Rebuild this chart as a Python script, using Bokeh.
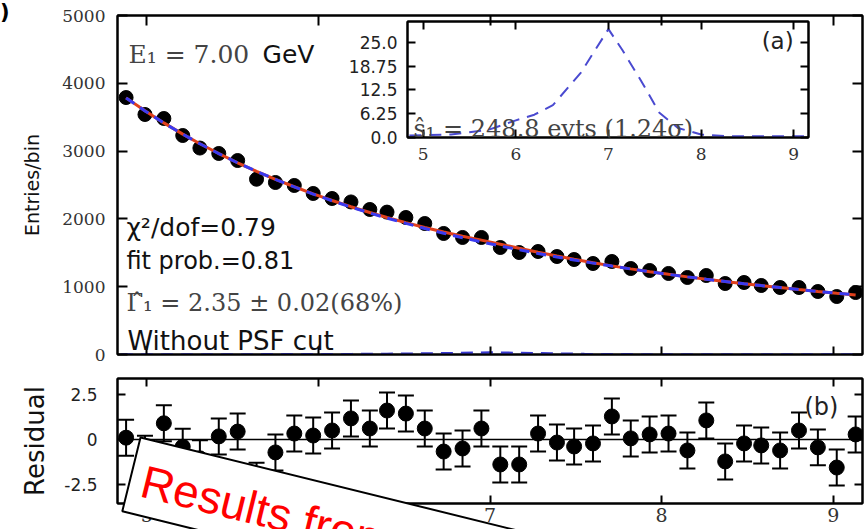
from bokeh.plotting import figure
from bokeh.models import (Range1d, LinearAxis, FixedTicker, Label, Whisker,
                          ColumnDataSource, TeeHead, Span, Div)
from bokeh.layouts import column
from bokeh.embed import file_html
from bokeh.resources import INLINE

# ---------------- data ----------------
energy = [4.88, 4.99, 5.10, 5.21, 5.31, 5.42, 5.53, 5.64, 5.75, 5.86,
          5.97, 6.08, 6.19, 6.30, 6.40, 6.51, 6.62, 6.73, 6.84, 6.95,
          7.06, 7.17, 7.28, 7.39, 7.49, 7.60, 7.71, 7.82, 7.93, 8.04,
          8.15, 8.26, 8.37, 8.48, 8.58, 8.69, 8.80, 8.91, 9.02, 9.13]
entries = [3790, 3540, 3481, 3230, 3045, 2965, 2861, 2585, 2537, 2493,
           2375, 2301, 2250, 2139, 2100, 2021, 1932, 1785, 1726, 1726,
           1578, 1504, 1519, 1445, 1401, 1342, 1372, 1268, 1239, 1195,
           1136, 1165, 1047, 1062, 1018, 988, 988, 929, 855, 914]
fit_total = [3785, 3594, 3416, 3250, 3109, 2964, 2828, 2702, 2584, 2474,
             2370, 2272, 2180, 2094, 2021, 1945, 1874, 1807, 1745, 1687,
             1627, 1566, 1508, 1453, 1404, 1353, 1307, 1263, 1222, 1183,
             1145, 1110, 1077, 1044, 1016, 987, 958, 930, 904, 879]
fit_bkg = [3784, 3593, 3415, 3249, 3108, 2963, 2827, 2701, 2582, 2471,
           2366, 2267, 2174, 2087, 2012, 1934, 1859, 1789, 1723, 1660,
           1601, 1544, 1490, 1439, 1394, 1348, 1304, 1261, 1221, 1182,
           1145, 1110, 1077, 1044, 1016, 987, 958, 930, 904, 879]
residual = [0.10, -0.80, 0.90, -0.40, -1.05, 0.17, 0.44, -2.30, -0.72, 0.33,
            0.22, 0.50, 1.17, 0.61, 1.61, 1.44, 0.61, -0.67, -0.50, 0.61,
            -1.39, -1.39, 0.33, -0.17, -0.39, -0.22, 1.28, 0.06, 0.28, 0.33,
            -0.61, 1.06, -1.22, -0.22, -0.33, -0.61, 0.50, -0.44, -1.56, 0.28]
res_err = [1.0, 1.0, 1.0, 1.0, 1.0, 1.0, 1.0, 1.0, 1.0, 1.0,
           1.0, 1.0, 1.0, 1.0, 1.0, 1.0, 1.0, 1.0, 1.0, 1.0,
           1.0, 1.0, 1.0, 1.0, 1.0, 1.0, 1.0, 1.0, 1.0, 1.0,
           1.0, 1.0, 1.0, 1.0, 1.0, 1.0, 1.0, 1.0, 1.0, 1.0]
sig_x = [4.85, 5.30, 5.70, 6.00, 6.20, 6.40, 6.70, 7.00, 7.15, 7.35,
         7.55, 7.75, 8.00, 8.30, 8.70, 9.15]
sig_y = [0.5, 0.8, 2.0, 4.5, 6.0, 8.5, 17.0, 28.5, 23.0, 15.0,
         6.5, 2.5, 0.8, 0.3, 0.3, 0.3]

x_ticks = [5, 6, 7, 8, 9]
main_y_ticks = [0, 1000, 2000, 3000, 4000, 5000]
res_y_ticks = [-2.5, 0, 2.5]
res_y_labels = ["-2.5", "0", "2.5"]
inset_y_ticks = [0.0, 6.25, 12.5, 18.75, 25.0]
inset_y_labels = ["0.0", "6.25", "12.5", "18.75", "25.0"]

SERIF = "DejaVu Serif"
SANS = "DejaVu Sans"
STAMP_ANGLE = -0.2419


def style_axis(ax, ticks, labels=True, font=SANS, size="17px", standoff=10,
               tick_in=8, overrides=None, color="#222"):
    ax.ticker = FixedTicker(ticks=ticks)
    ax.major_tick_in = tick_in
    ax.major_tick_out = 0
    ax.minor_tick_line_color = None
    ax.major_tick_line_width = 2
    ax.major_tick_line_color = "black"
    ax.axis_line_width = 2
    ax.axis_line_color = "black"
    if labels:
        ax.major_label_text_font = font
        ax.major_label_text_font_size = size
        ax.major_label_standoff = standoff
        ax.major_label_text_color = color
        if overrides:
            ax.major_label_overrides = overrides
    else:
        ax.major_label_text_font_size = "0px"
        ax.major_label_standoff = 0
        ax.major_label_text_color = None


def add_text(fig, x, y, text, font, size, color, align="left"):
    fig.add_layout(Label(x=x, y=y, text=text, text_font=font,
                         text_font_size=size, text_color=color,
                         text_align=align, text_baseline="alphabetic"))


xr = Range1d(4.83, 9.17)

# ---------------- main panel ----------------
p = figure(width=865, height=370, x_range=xr, y_range=Range1d(0, 5000),
           output_backend="svg", toolbar_location=None,
           min_border_left=117, min_border_right=3, min_border_top=15,
           min_border_bottom=16)
p.grid.visible = False
p.outline_line_color = "black"
p.outline_line_width = 2
style_axis(p.xaxis[0], x_ticks, labels=False, tick_in=8)
style_axis(p.yaxis[0], main_y_ticks, font=SERIF, size="17px", standoff=12,
           tick_in=10, color="#333")
p.yaxis[0].axis_label = "Entries/bin"
p.yaxis[0].axis_label_text_font = SANS
p.yaxis[0].axis_label_text_font_size = "19px"
p.yaxis[0].axis_label_text_font_style = "normal"
p.yaxis[0].axis_label_text_color = "#111"
p.yaxis[0].axis_label_standoff = 16
top_ax = LinearAxis()
style_axis(top_ax, x_ticks, labels=False, tick_in=10)
p.add_layout(top_ax, "above")
right_ax = LinearAxis()
style_axis(right_ax, main_y_ticks, labels=False, tick_in=10)
p.add_layout(right_ax, "right")

p.scatter(energy, entries, size=14, color="black")
p.line(energy, fit_total, line_color="#e0401c", line_width=3)
p.line(energy, fit_bkg, line_color="#3a3af0", line_width=3, line_dash="10 7")
p.line(sig_x, sig_y, line_color="#3a3ad0", line_width=2.5, line_dash="12 8")

add_text(p, 4.894, 4424, "E₁ = 7.00", SERIF, "25px", "#444")
add_text(p, 5.675, 4424, "GeV", SANS, "25px", "#111")
add_text(p, 4.882, 1873, "χ²/dof=0.79", SANS, "25px", "#111")
add_text(p, 4.882, 1383, "fit prob.=0.81", SANS, "24px", "#111")
add_text(p, 4.882, 763, "Γ̂₁ = 2.35 ± 0.02(68%)", SERIF, "24px", "#444")
add_text(p, 4.888, 195, "Without PSF cut", SANS, "26px", "#111")

# ---------------- residual panel ----------------
r = figure(width=865, height=159, x_range=xr, y_range=Range1d(-3.56, 3.39),
           output_backend="svg", toolbar_location=None,
           min_border_left=117, min_border_right=3, min_border_top=8,
           min_border_bottom=26)
r.grid.visible = False
r.outline_line_color = "black"
r.outline_line_width = 2
style_axis(r.xaxis[0], x_ticks, font=SERIF, size="19px", standoff=4,
           tick_in=8, color="#333")
style_axis(r.yaxis[0], res_y_ticks, font=SANS, size="17px", standoff=20,
           tick_in=8, overrides=dict(zip(res_y_ticks, res_y_labels)))
r.yaxis[0].axis_label = "Residual"
r.yaxis[0].axis_label_text_font = SANS
r.yaxis[0].axis_label_text_font_size = "26px"
r.yaxis[0].axis_label_text_font_style = "normal"
r.yaxis[0].axis_label_text_color = "#111"
r.yaxis[0].axis_label_standoff = 11
r_top = LinearAxis()
style_axis(r_top, x_ticks, labels=False, tick_in=8)
r.add_layout(r_top, "above")
r_right = LinearAxis()
style_axis(r_right, res_y_ticks, labels=False, tick_in=8)
r.add_layout(r_right, "right")

r.add_layout(Span(location=0, dimension="width", line_color="black",
                  line_width=1.5))
upper = [v + e for v, e in zip(residual, res_err)]
lower = [v - e for v, e in zip(residual, res_err)]
rsrc = ColumnDataSource(dict(x=energy, r=residual, up=upper, lo=lower))
r.add_layout(Whisker(source=rsrc, base="x", upper="up", lower="lo",
                     line_color="black", line_width=2,
                     upper_head=TeeHead(size=16, line_width=2, line_color="black"),
                     lower_head=TeeHead(size=16, line_width=2, line_color="black")))
r.scatter("x", "r", source=rsrc, size=15, color="black")
add_text(r, 9.03, 1.82, "(b)", SANS, "24px", "#222", align="right")

# ---------------- inset ----------------
ins = figure(width=521, height=152, x_range=Range1d(4.83, 9.16),
             y_range=Range1d(0, 30.5), output_backend="svg",
             toolbar_location=None, min_border_left=117, min_border_right=3,
             min_border_top=4, min_border_bottom=32,
             background_fill_color=None, border_fill_color=None,
             styles={"position": "absolute", "left": "290px", "top": "17px"})
ins.grid.visible = False
ins.outline_line_color = "black"
ins.outline_line_width = 2
style_axis(ins.xaxis[0], x_ticks, font=SERIF, size="17px", standoff=10,
           tick_in=8, color="#333")
style_axis(ins.yaxis[0], inset_y_ticks, font=SANS, size="17px", standoff=10,
           tick_in=8, overrides=dict(zip(inset_y_ticks, inset_y_labels)))
i_top = LinearAxis()
style_axis(i_top, x_ticks, labels=False, tick_in=8)
ins.add_layout(i_top, "above")
i_right = LinearAxis()
style_axis(i_right, inset_y_ticks, labels=False, tick_in=8)
ins.add_layout(i_right, "right")
ins.line(sig_x, sig_y, line_color="#4a4ad0", line_width=2, line_dash="12 8")
add_text(ins, 4.895, 2.34, "ŝ₁ = 248.8 evts (1.24σ)", SERIF, "24px", "#444")
add_text(ins, 9.0, 25.3, "(a)", SANS, "23px", "#222", align="right")

# ---------------- transparent overlay carrying the stamp ----------------
# x in GeV (same range as the panels), y in page pixels from the top
ov = figure(width=865, height=529, x_range=xr, y_range=Range1d(529, 0),
            output_backend="svg", toolbar_location=None,
            min_border_left=117, min_border_right=3, min_border_top=0,
            min_border_bottom=0, x_axis_location=None, y_axis_location=None,
            background_fill_color=None, border_fill_color=None,
            outline_line_color=None,
            styles={"position": "absolute", "left": "0px", "top": "0px"})
ov.grid.visible = False
ov.add_layout(Label(x=4.964, y=437, text=" ", angle=STAMP_ANGLE,
                    text_font="Liberation Sans", text_font_size="10px",
                    text_align="left", text_baseline="top",
                    background_fill_color="white",
                    border_line_color="black", border_line_width=2,
                    padding=dict(left=0, right=900, top=32, bottom=33)))
ov.add_layout(Label(x=5.010, y=454.6, text="Results from", angle=STAMP_ANGLE,
                    text_font="Liberation Sans", text_font_size="46px",
                    text_color="#ff0000", text_align="left",
                    text_baseline="top"))

# fragment of a neighbouring panel's label at the very left edge
edge = Div(text=")", width=12, height=24,
           styles={"position": "absolute", "left": "-5px", "top": "-3px",
                   "font-family": "DejaVu Sans", "font-weight": "bold",
                   "font-size": "21px", "line-height": "21px",
                   "color": "#000"})

layout = column(p, r, ins, ov, edge)
open("out.html", "w").write(file_html(layout, INLINE))
